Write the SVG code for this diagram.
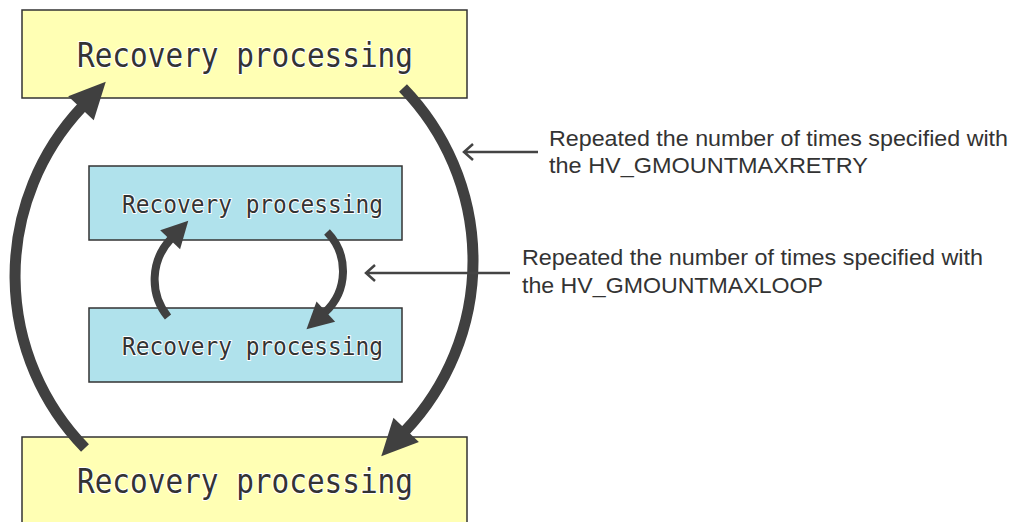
<svg xmlns="http://www.w3.org/2000/svg" width="1018" height="522" viewBox="0 0 1018 522">
<defs>
<style>
.big{fill:#ffffb4;stroke:#333;stroke-width:1.5}
.small{fill:#b0e2ec;stroke:#333;stroke-width:1.5}
.bt{font-family:"DejaVu Sans Mono","Liberation Mono",monospace;fill:#333;stroke:#fff;stroke-width:2;paint-order:stroke;stroke-linejoin:round}
.lbl{font-family:"Liberation Sans",Arial,sans-serif;font-size:22px;fill:#333}
.arc{fill:none;stroke:#404040;stroke-width:11}
.arcs{fill:none;stroke:#404040;stroke-width:8}
.ptr{fill:none;stroke:#444;stroke-width:2.5}
</style>
<marker id="hb" markerUnits="userSpaceOnUse" markerWidth="40" markerHeight="40" viewBox="-2 -16 32 32" refX="0" refY="0" orient="auto">
<path d="M-1,-14 L28,0 L-1,14 z" fill="#404040"/>
</marker>
<marker id="hs" markerUnits="userSpaceOnUse" markerWidth="30" markerHeight="30" viewBox="-2 -12 24 24" refX="0" refY="0" orient="auto">
<path d="M-1,-11 L20,0 L-1,11 z" fill="#404040"/>
</marker>
</defs>
<g id="top-box">
<rect class="big" x="22" y="10" width="445" height="88"/>
<text class="bt" x="77" y="67" font-size="34" textLength="336" lengthAdjust="spacingAndGlyphs">Recovery processing</text>
</g>
<g id="bottom-box">
<rect class="big" x="22" y="437" width="445" height="100"/>
<text class="bt" x="77" y="493" font-size="34" textLength="336" lengthAdjust="spacingAndGlyphs">Recovery processing</text>
</g>
<g id="inner-top-box">
<rect class="small" x="89" y="166" width="313" height="74"/>
<text class="bt" x="122" y="213" font-size="24.5" textLength="261" lengthAdjust="spacingAndGlyphs">Recovery processing</text>
</g>
<g id="inner-bottom-box">
<rect class="small" x="89" y="308" width="313" height="74"/>
<text class="bt" x="122" y="355" font-size="24.5" textLength="261" lengthAdjust="spacingAndGlyphs">Recovery processing</text>
</g>
<g id="connectors">
<path class="arc" d="M85,448 A246.5,246.5 0 0 1 81.8,107.3" marker-end="url(#hb)"/>
<path class="arc" d="M403,88 A247.75,247.75 0 0 1 405.3,430.8" marker-end="url(#hb)"/>
<path class="arcs" d="M168,317 A59,59 0 0 1 171,238.8" marker-end="url(#hs)"/>
<path class="arcs" d="M327,232 A56,56 0 0 1 324.9,312.4" marker-end="url(#hs)"/>
<path class="ptr" d="M538,152 H464 M473,144 L464,152 L473,160"/>
<path class="ptr" d="M510,273 H366 M375,265 L366,273 L375,281"/>
</g>
<g id="label-retry">
<text class="lbl" x="549" y="146" textLength="459" lengthAdjust="spacingAndGlyphs">Repeated the number of times specified with</text>
<text class="lbl" x="549" y="173" textLength="319" lengthAdjust="spacingAndGlyphs">the HV_GMOUNTMAXRETRY</text>
</g>
<g id="label-loop">
<text class="lbl" x="522" y="265" textLength="461" lengthAdjust="spacingAndGlyphs">Repeated the number of times specified with</text>
<text class="lbl" x="522" y="293" textLength="301" lengthAdjust="spacingAndGlyphs">the HV_GMOUNTMAXLOOP</text>
</g>
</svg>
